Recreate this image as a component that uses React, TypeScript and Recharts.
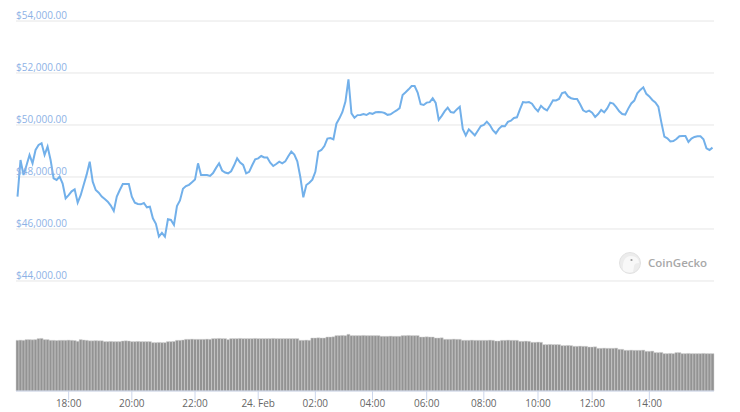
import React from 'react';
import { ComposedChart, Line, Bar, XAxis, YAxis, CartesianGrid } from 'recharts';

// Bitcoin price (USD), one value per ordinal data point (24h window)
const PRICE = [
  47244, 48654, 48077, 48450, 48850, 48526, 49039, 49231, 49295, 48850,
  49167, 48654, 47949, 47885, 48013, 47750, 47180, 47300, 47450, 47526,
  47013, 47300, 47700, 48100, 48590, 47821, 47500, 47398, 47250, 47150,
  47052, 46900, 46693, 47244, 47500, 47731, 47731, 47731, 47244, 47013,
  46962, 46950, 47000, 46834, 46859, 46411, 46200, 45706, 45850, 45706,
  46372, 46346, 46154, 46885, 47100, 47550, 47650, 47700, 47800, 47900,
  48526, 48077, 48077, 48077, 48040, 48150, 48350, 48526, 48250, 48170,
  48141, 48220, 48450, 48718, 48552, 48462, 48141, 48200, 48450, 48680,
  48718, 48808, 48750, 48750, 48550, 48423, 48500, 48590, 48526, 48600,
  48800, 48975, 48860, 48600, 48000, 47218, 47693, 47780, 47900, 48200,
  48975, 49039, 49192, 49480, 49500, 49450, 50050, 50256, 50500, 50900,
  51756, 50449, 50280, 50380, 50385, 50423, 50385, 50460, 50430, 50490,
  50500, 50495, 50460, 50390, 50410, 50490, 50560, 50650, 51154, 51260,
  51372, 51500, 51500, 51250, 50800, 50769, 50860, 50880, 51026, 50850,
  50200, 50350, 50530, 50667, 50500, 50474, 50600, 50700, 49850, 49600,
  49833, 49720, 49600, 49780, 49960, 50000, 50128, 50000, 49800, 49680,
  49850, 49960, 49950, 50120, 50165, 50270, 50295, 50600, 50880, 50870,
  50880, 50820, 50650, 50530, 50740, 50630, 50560, 50750, 50950, 50945,
  51000, 51230, 51260, 51100, 51030, 51000, 51000, 50800, 50565, 50500,
  50550, 50474, 50310, 50420, 50580, 50490, 50640, 50860, 50820, 50690,
  50530, 50420, 50400, 50630, 50830, 50940, 51218, 51350, 51450, 51200,
  51100, 50962, 50865, 50705, 50100, 49550, 49490, 49370, 49380, 49460,
  49570, 49580, 49577, 49350, 49480, 49540, 49570, 49565, 49450, 49100,
  49040, 49130,
];

// Traded volume (relative units), one value per data point
const VOLUME = [
  50.7, 50.9, 50.7, 51.4, 51.4, 51.2, 51.4, 52.4, 52.6, 51.4,
  51.4, 50.7, 50.7, 50.5, 50.7, 50.7, 50.7, 50.9, 50.7, 50.5,
  49.7, 51.4, 51.0, 50.7, 50.2, 50.2, 50.4, 50.2, 50.2, 49.4,
  49.4, 49.6, 49.4, 49.4, 49.4, 50.0, 50.2, 50.0, 49.4, 49.4,
  49.6, 49.4, 49.4, 49.4, 49.4, 48.4, 48.4, 48.6, 48.4, 48.4,
  49.4, 49.4, 49.6, 50.7, 50.7, 51.0, 51.7, 51.7, 51.9, 51.7,
  51.7, 51.7, 51.7, 51.9, 51.7, 52.4, 52.4, 52.6, 52.4, 52.4,
  51.4, 52.4, 52.4, 52.4, 52.6, 52.4, 52.4, 52.4, 52.4, 52.6,
  52.4, 52.4, 52.4, 52.4, 52.4, 52.6, 52.4, 52.4, 52.4, 52.4,
  52.4, 52.4, 52.4, 52.4, 50.7, 50.7, 50.9, 50.7, 53.0, 53.0,
  53.2, 53.0, 53.0, 54.0, 54.0, 54.2, 55.4, 55.4, 55.6, 55.4,
  56.7, 55.4, 55.4, 55.4, 55.4, 55.6, 55.4, 55.4, 55.4, 55.4,
  55.4, 54.7, 54.7, 54.7, 54.9, 54.7, 54.7, 54.7, 55.4, 55.4,
  55.6, 55.4, 55.4, 55.4, 54.0, 54.0, 54.2, 54.0, 54.0, 53.0,
  53.0, 53.2, 51.7, 51.7, 51.7, 51.9, 51.7, 51.7, 50.7, 50.7,
  50.7, 50.9, 50.7, 50.7, 50.7, 50.7, 50.7, 50.9, 50.7, 50.0,
  50.0, 50.7, 50.7, 50.9, 50.7, 50.7, 50.7, 49.7, 49.7, 49.9,
  49.7, 48.7, 48.7, 48.9, 48.7, 46.4, 46.4, 46.6, 46.4, 46.4,
  46.4, 45.4, 45.4, 45.6, 45.4, 44.7, 44.7, 44.9, 44.7, 44.7,
  44.0, 44.0, 44.2, 42.7, 42.7, 42.9, 42.7, 42.7, 42.7, 42.9,
  41.7, 41.7, 40.7, 40.7, 40.9, 40.7, 40.7, 40.7, 40.9, 39.7,
  39.7, 39.9, 38.4, 38.4, 38.6, 37.4, 37.4, 37.6, 37.4, 38.4,
  38.4, 37.4, 37.4, 37.6, 37.4, 37.4, 37.4, 37.4, 37.6, 37.4,
  37.4, 37.4,
];

const PRICE_TICKS = [44000, 46000, 48000, 50000, 52000, 54000];
const TIME_TICK_INDEX = [17, 38, 59, 80, 99, 118, 136, 155, 173, 191, 210];
const TIME_TICK_LABELS = ['18:00', '20:00', '22:00', '24. Feb', '02:00', '04:00', '06:00', '08:00', '10:00', '12:00', '14:00'];

const PRICE_DOMAIN: [number, number] = [39769, 54000];
const VOLUME_DOMAIN: [number, number] = [0, 370];

const data = PRICE.map((p, i) => ({ i, price: p, volume: VOLUME[i] }));

const fmtUsd = (v: number) =>
  '$' + v.toLocaleString('en-US', { minimumFractionDigits: 2, maximumFractionDigits: 2 });

const renderPriceTick = (props: any) => {
  const { y, payload } = props;
  return (
    <text key={'pt' + payload.value} x={16} y={y - 2} fill="#8db2e6" fontSize={10} textAnchor="start">
      {fmtUsd(payload.value)}
    </text>
  );
};

const timeLabel = (v: number) => {
  const idx = TIME_TICK_INDEX.indexOf(v);
  return idx >= 0 ? TIME_TICK_LABELS[idx] : '';
};

export default function App() {
  return (
    <div
      style={{
        position: 'absolute',
        left: 0,
        top: 0,
        width: 740,
        height: 412,
        background: '#ffffff',
        fontFamily: "'Open Sans', sans-serif",
      }}
    >
      <ComposedChart
        width={740}
        height={412}
        data={data}
        margin={{ top: 21, right: 26, left: 16, bottom: 0 }}
        barCategoryGap={0}
        barGap={0}
      >
        <CartesianGrid yAxisId="price" vertical={false} stroke="#e6e6e6" strokeWidth={1} />
        <XAxis
          dataKey="i"
          type="category"
          ticks={TIME_TICK_INDEX}
          interval={0}
          tickFormatter={timeLabel}
          height={21}
          tickSize={9}
          tickMargin={0}
          axisLine={{ stroke: '#ccd6eb' }}
          tickLine={{ stroke: '#ccd6eb' }}
          tick={{ fill: '#666666', fontSize: 10 }}
        />
        <YAxis
          yAxisId="price"
          domain={PRICE_DOMAIN}
          ticks={PRICE_TICKS}
          allowDataOverflow
          mirror
          width={60}
          axisLine={false}
          tickLine={false}
          interval={0}
          tick={renderPriceTick}
        />
        <YAxis yAxisId="vol" domain={VOLUME_DOMAIN} hide allowDataOverflow />
        <Bar
          yAxisId="vol"
          dataKey="volume"
          fill="#939393"
          stroke="#d4d4d4"
          strokeWidth={0.5}
          isAnimationActive={false}
        />
        <Line
          yAxisId="price"
          dataKey="price"
          type="linear"
          stroke="#72b0ea"
          strokeWidth={2}
          dot={false}
          activeDot={false}
          isAnimationActive={false}
        />
      </ComposedChart>
      <svg
        width={740}
        height={412}
        style={{ position: 'absolute', left: 0, top: 0, pointerEvents: 'none' }}
      >
        <circle cx={630} cy={263} r={10.5} fill="#ececec" stroke="#e2e2e2" strokeWidth={1} />
        <path d="M623 270 C622 262 625 256 631 256 C636 256 639 259 639 263 C636 263 634 264 634 267 L633 272 C629 273 625 272 623 270 Z" fill="#f8f8f8" />
        <circle cx={631.5} cy={260} r={1.1} fill="#9a9a9a" />
        <text x={648} y={267} fontSize={11.5} fontWeight={600} fill="#a8a8a8">
          CoinGecko
        </text>
      </svg>
    </div>
  );
}
